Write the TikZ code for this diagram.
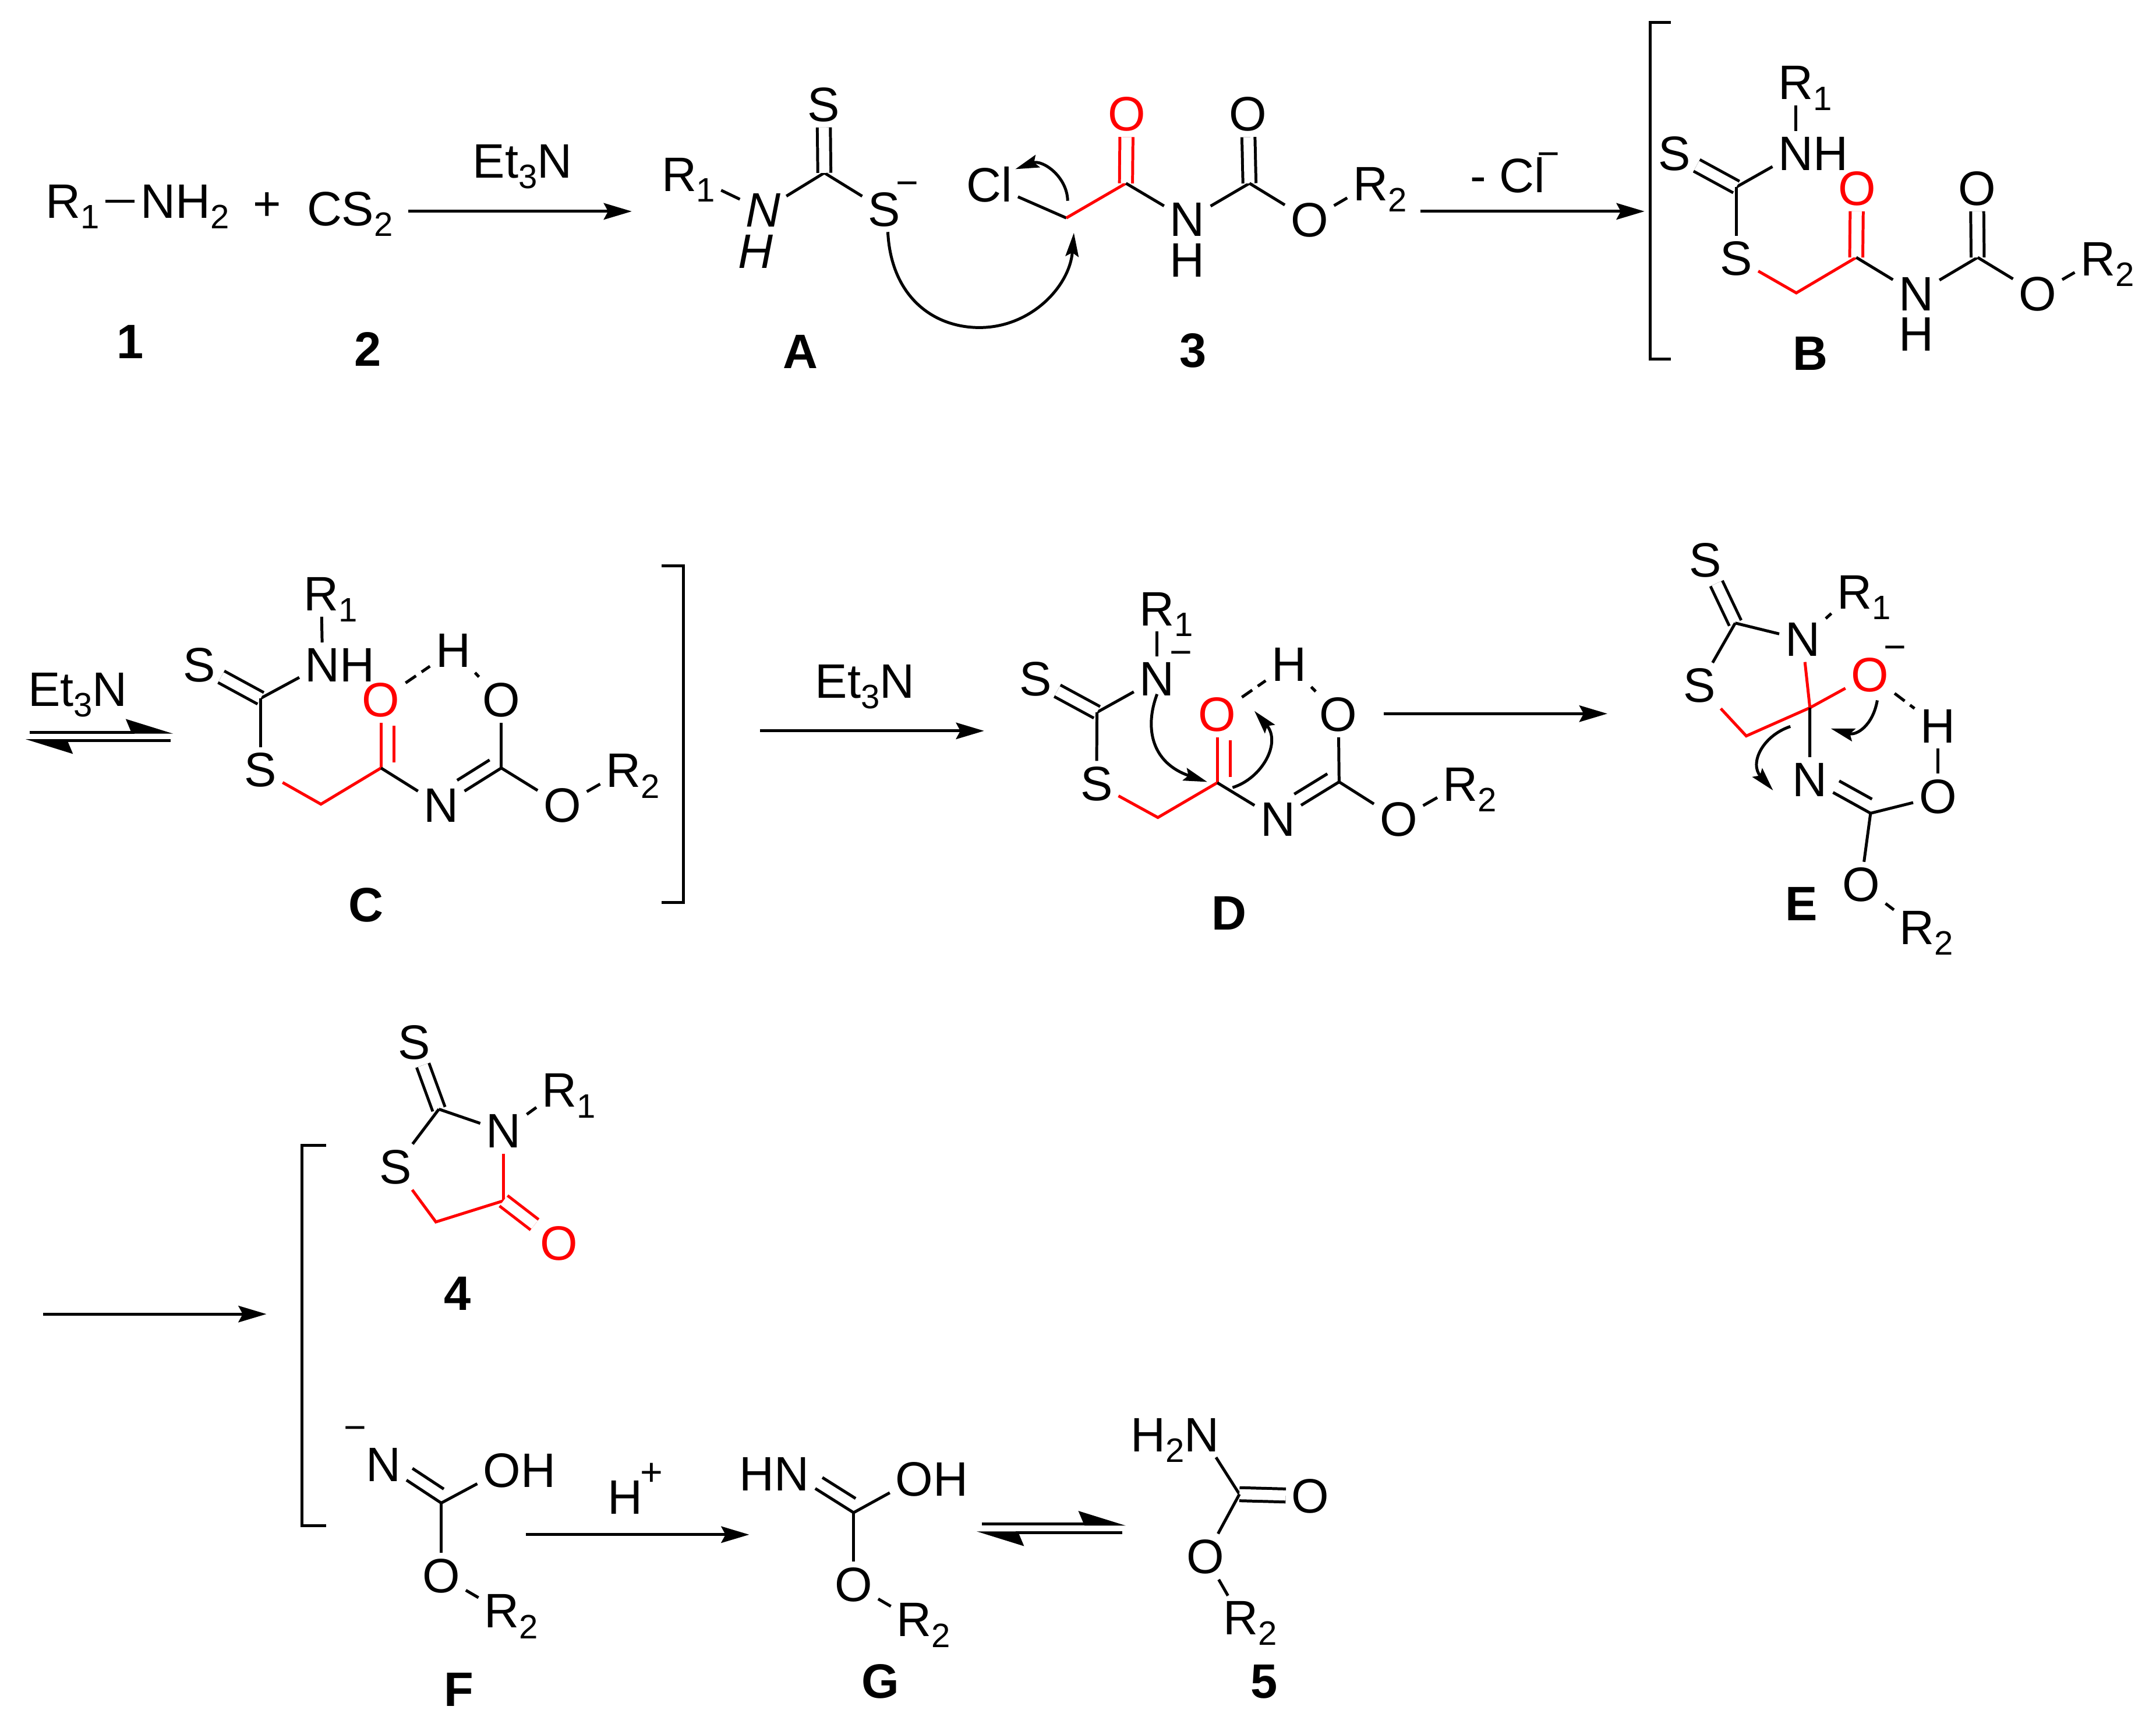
\documentclass[tikz,border=0pt]{standalone}
\usepackage{fontspec}
\setmainfont{Liberation Sans}
\usetikzlibrary{arrows.meta,calc}
\newcommand{\subidx}[1]{\raisebox{-2.2pt}[0pt][0pt]{\fontsize{7}{7}\selectfont #1}}
\newcommand{\dblbond}[3][bond]{\draw[#1] (#2) -- (#3); \draw[#1] ($(#2)!.08!(#3)!.095cm!-90:(#3)$) -- ($(#2)!.62!(#3)!.095cm!-90:(#3)$);}
\tikzset{
	atom/.style={inner sep=1.2pt,outer sep=0pt},
	redatom/.style={atom,text=red},
	cmpd/.style={atom,font=\bfseries},
	charge/.style={inner sep=0pt,yshift=-1pt,font=\fontsize{8}{8}\selectfont},
	bond/.style={line width=.6pt},
	redbond/.style={bond,red},
	dblsym/.style={bond,double,double distance=2.1pt},
	reddbl/.style={dblsym,red},
	hbond/.style={bond,dash pattern=on 2.6pt off 1.4pt},
	rxn/.style={line width=.6pt,-{Stealth[length=5.8pt,width=3.4pt,inset=.9pt]}},
	equil/.style={line width=.6pt,-{Stealth[harpoon,length=8.8pt,width=5.4pt,inset=1.1pt]}},
	push/.style={line width=.6pt,-{Stealth[length=4.9pt,width=2.7pt,inset=.8pt]}}
}
\begin{document}
\begin{tikzpicture}[x=0.01cm,y=-0.01cm]
	\useasboundingbox (0,0) rectangle (1568,1258.8);

	\node[atom] (Rnh) at (52.7,146.5){R\subidx{1}};
	\node[atom] (NHtwo) at (134.5,146.5){NH\subidx{2}};
	\draw[bond] (Rnh) -- (NHtwo);
	\node[atom] (plusA) at (194.5,150){+};
	\node[atom] (CStwo) at (254.5,152){CS\subidx{2}};
	\coordinate (arrAs) at (297,153.7);
	\coordinate (arrAe) at (459.5,153.7);
	\draw[rxn] (arrAs) -- (arrAe);
	\node[atom] (baseA) at (380,117.5){Et\subidx{3}N};
	\node[cmpd] (lblOne) at (94.8,248.5){1};
	\node[cmpd] (lblTwo) at (267.4,254){2};

	\node[atom] (Ra) at (500.7,127){R\subidx{1}};
	\node[atom,font=\itshape] (Na) at (555,153){N};
	\node[atom,font=\itshape] (Ha) at (549.5,183){H};
	\coordinate (Ca) at (599.5,125.7);
	\node[atom] (Sa1) at (599,76){S};
	\node[atom] (Sa2) at (643,152.5){S};
	\node[charge] (mina) at (660,134){−};
	\draw[bond] (Ra) -- (Na);
	\draw[bond] (Na) -- (Ca);
	\draw[bond] (Ca) -- (Sa2);
	\draw[dblsym] (Ca) -- (Sa1);
	\node[cmpd] (lblA) at (582,256){A};

	\node[atom] (Cl) at (719.5,134){Cl};
	\coordinate (Ch) at (775.5,158.5);
	\coordinate (Cc1) at (818.9,133.3);
	\coordinate (Cc2) at (908.7,133.3);
	\node[redatom] (Oc1) at (819.4,83){O};
	\node[atom] (Oc2) at (907.6,83){O};
	\node[atom] (Nc) at (863.5,159.8){N};
	\node[atom] (Hc) at (863.5,189.5){H};
	\node[atom] (Oc3) at (952.3,160){O};
	\node[atom] (Rc) at (996.7,134){R\rlap{\subidx{2}}};
	\draw[bond] (Cl) -- (Ch);
	\draw[redbond] (Ch) -- (Cc1);
	\draw[reddbl] (Cc1) -- (Oc1);
	\draw[bond] (Cc1) -- (Nc);
	\draw[bond] (Nc) -- (Cc2);
	\draw[dblsym] (Cc2) -- (Oc2);
	\draw[bond] (Cc2) -- (Oc3);
	\draw[bond] (Oc3) -- (Rc);
	\node[cmpd] (lblThree) at (867.6,255){3};

	\coordinate (pushAs) at (645.7,168.7);
	\coordinate (pushAm) at (712.3,238.2);
	\coordinate (pushAe) at (781,169.3);
	\draw[push] (pushAs) .. controls (648,215) and (678,238.2) .. (pushAm) .. controls (750,238.2) and (778,208) .. (pushAe);
	\coordinate (pushBs) at (776.5,146);
	\coordinate (pushBe) at (738.4,123);
	\draw[push] (pushBs) .. controls (776,128) and (758,116) .. (pushBe);

	\coordinate (arrBs) at (1032.9,153.7);
	\coordinate (arrBe) at (1196,153.7);
	\draw[rxn] (arrBs) -- (arrBe);
	\node[atom] (lossCl) at (1096.5,127.5){- Cl};
	\node[charge] (lossMin) at (1126,112.5){−};

	\draw[bond] (1215,16.5) -- (1200,16.5) -- (1200,261) -- (1215,261);
	\node[atom] (Sb1) at (1218,111.6){S};
	\node[atom] (Nb) at (1306,111.6){N\rlap{H}};
	\node[atom] (Rb1) at (1306,60.3){R\rlap{\subidx{1}}};
	\coordinate (Cb1) at (1262.8,136);
	\node[atom] (Sb2) at (1262.8,188){S};
	\coordinate (Chb) at (1306.4,213);
	\coordinate (Cb2) at (1350,187.2);
	\coordinate (Cb3) at (1438.3,187.2);
	\node[redatom] (Ob1) at (1350.5,137){O};
	\node[atom] (Ob2) at (1437.8,137){O};
	\node[atom] (Nb2) at (1393.6,213.7){N};
	\node[atom] (Hb) at (1393.6,243.3){H};
	\node[atom] (Ob3) at (1481.9,213.7){O};
	\node[atom] (Rb2) at (1525.8,188.3){R\rlap{\subidx{2}}};
	\draw[bond] (Rb1) -- (Nb);
	\draw[bond] (Nb) -- (Cb1);
	\draw[dblsym] (Cb1) -- (Sb1);
	\draw[bond] (Cb1) -- (Sb2);
	\draw[redbond] (Sb2) -- (Chb) -- (Cb2);
	\draw[reddbl] (Cb2) -- (Ob1);
	\draw[bond] (Cb2) -- (Nb2);
	\draw[bond] (Nb2) -- (Cb3);
	\draw[dblsym] (Cb3) -- (Ob2);
	\draw[bond] (Cb3) -- (Ob3);
	\draw[bond] (Ob3) -- (Rb2);
	\node[cmpd] (lblB) at (1316.6,257){B};

	\node[atom] (baseC) at (56.5,501.5){Et\subidx{3}N};
	\coordinate (eqAs) at (21.4,532.5);
	\coordinate (eqAe) at (126,532.5);
	\coordinate (eqBs) at (124,538.6);
	\coordinate (eqBe) at (18.5,538.6);
	\draw[equil] (eqAs) -- (eqAe);
	\draw[equil] (eqBs) -- (eqBe);

	\node[atom] (Sd1) at (144.9,483.5){S};
	\node[atom] (Nd) at (234.6,483.5){N\rlap{H}};
	\node[atom] (Rd1) at (233.6,432.2){R\rlap{\subidx{1}}};
	\coordinate (Cd1) at (189.6,507.8);
	\node[atom] (Sd2) at (189.6,560){S};
	\coordinate (Chd) at (233.4,584.8);
	\coordinate (Cd2) at (277.1,558.5);
	\coordinate (Cd3) at (364.6,558.5);
	\node[redatom] (Od1) at (277.1,508.9){O};
	\node[atom] (Od2) at (364.6,508.9){O};
	\node[atom] (Hd) at (329.6,472.9){H};
	\node[atom] (Nd2) at (320.9,585.9){N};
	\node[atom] (Od3) at (408.9,585.9){O};
	\node[atom] (Rd2) at (453.4,560.5){R\rlap{\subidx{2}}};
	\draw[bond] (Rd1) -- (Nd);
	\draw[bond] (Nd) -- (Cd1);
	\draw[dblsym] (Cd1) -- (Sd1);
	\draw[bond] (Cd1) -- (Sd2);
	\draw[redbond] (Sd2) -- (Chd) -- (Cd2);
	\dblbond[redbond]{Cd2}{Od1}
	\draw[bond] (Cd2) -- (Nd2);
	\dblbond{Cd3}{Nd2}
	\draw[bond] (Cd3) -- (Od2);
	\draw[bond] (Cd3) -- (Od3);
	\draw[bond] (Od3) -- (Rd2);
	\draw[hbond] (Od1) -- (Hd);
	\draw[bond] (Hd) -- (Od2);
	\node[cmpd] (lblC) at (266,658){C};
	\draw[bond] (481.3,411.6) -- (496.9,411.6) -- (496.9,656.1) -- (481.3,656.1);

	\coordinate (arrCs) at (552.8,531.5);
	\coordinate (arrCe) at (715.7,531.5);
	\draw[rxn] (arrCs) -- (arrCe);
	\node[atom] (baseD) at (629,495.6){Et\subidx{3}N};

	\node[atom] (Se1) at (753,493.7){S};
	\node[atom] (Ne) at (841.5,493.7){N};
	\node[charge] (mine) at (859,475.4){−};
	\node[atom] (Re1) at (841.5,442.8){R\rlap{\subidx{1}}};
	\coordinate (Ce1) at (797.8,518);
	\node[atom] (Se2) at (797.5,570){S};
	\coordinate (Che) at (842.1,594.5);
	\coordinate (Ce2) at (885.3,569.2);
	\coordinate (Ce3) at (973.9,568.6);
	\node[redatom] (Oe1) at (885.3,519.5){O};
	\node[atom] (Oe2) at (973.4,519.5){O};
	\node[atom] (He) at (937.4,483.2){H};
	\node[atom] (Ne2) at (929.3,596){N};
	\node[atom] (Oe3) at (1017.1,596){O};
	\node[atom] (Re2) at (1062.2,570.4){R\rlap{\subidx{2}}};
	\draw[bond] (Re1) -- (Ne);
	\draw[bond] (Ne) -- (Ce1);
	\draw[dblsym] (Ce1) -- (Se1);
	\draw[bond] (Ce1) -- (Se2);
	\draw[redbond] (Se2) -- (Che) -- (Ce2);
	\dblbond[redbond]{Ce2}{Oe1}
	\draw[bond] (Ce2) -- (Ne2);
	\dblbond{Ce3}{Ne2}
	\draw[bond] (Ce3) -- (Oe2);
	\draw[bond] (Ce3) -- (Oe3);
	\draw[bond] (Oe3) -- (Re2);
	\draw[hbond] (Oe1) -- (He);
	\draw[bond] (He) -- (Oe2);
	\coordinate (pushCs) at (841.5,504.8);
	\coordinate (pushCe) at (878,568.6);
	\coordinate (pushDs) at (896.4,572.7);
	\coordinate (pushDe) at (912.3,517);
	\draw[push] (pushCs) .. controls (832,530) and (838,555) .. (pushCe);
	\draw[push] (pushDs) .. controls (918,566) and (932,540) .. (pushDe);
	\node[cmpd] (lblD) at (893.7,664){D};

	\coordinate (arrDs) at (1006.3,519);
	\coordinate (arrDe) at (1169,519);
	\draw[rxn] (arrDs) -- (arrDe);

	\node[atom] (Sf1) at (1240.4,407.6){S};
	\coordinate (Cf1) at (1262,453.1);
	\node[atom] (Nf) at (1310.9,465.1){N};
	\node[atom] (Rf1) at (1348.8,430.8){R\rlap{\subidx{1}}};
	\node[atom] (Sf2) at (1236,498.6){S};
	\coordinate (Chf) at (1270,535.2);
	\coordinate (Cf2) at (1316.3,514.7);
	\node[redatom] (Of1) at (1360,490.7){O};
	\node[charge] (minf) at (1378.4,471.5){−};
	\node[atom] (Hf) at (1409.3,528){H};
	\node[atom] (Nf2) at (1316.2,566.9){N};
	\coordinate (Cf3) at (1360.4,591.4);
	\node[atom] (Of2) at (1409.3,579.2){O};
	\node[atom] (Of3) at (1353.4,643.4){O};
	\node[atom] (Rf2) at (1394.3,674.5){R\rlap{\subidx{2}}};
	\draw[dblsym] (Cf1) -- (Sf1);
	\draw[bond] (Cf1) -- (Nf);
	\draw[bond] (Nf) -- (Rf1);
	\draw[bond] (Cf1) -- (Sf2);
	\draw[redbond] (Sf2) -- (Chf) -- (Cf2);
	\draw[redbond] (Nf) -- (Cf2);
	\draw[redbond] (Of1) -- (Cf2);
	\draw[bond] (Cf2) -- (Nf2);
	\dblbond{Cf3}{Nf2}
	\draw[bond] (Cf3) -- (Of2);
	\draw[bond] (Cf3) -- (Of3);
	\draw[bond] (Of3) -- (Rf2);
	\draw[hbond] (Of1) -- (Hf);
	\draw[bond] (Hf) -- (Of2);
	\coordinate (pushEs) at (1365.3,509.3);
	\coordinate (pushEe) at (1331.5,529.8);
	\coordinate (pushFs) at (1302.1,528.3);
	\coordinate (pushFe) at (1289.5,574.8);
	\draw[push] (pushEs) .. controls (1362,528) and (1350,535) .. (pushEe);
	\draw[push] (pushFs) .. controls (1282,535) and (1272,555) .. (pushFe);
	\node[cmpd] (lblE) at (1310,657.4){E};

	\coordinate (arrEs) at (31.4,955.6);
	\coordinate (arrEe) at (193.8,955.6);
	\draw[rxn] (arrEs) -- (arrEe);
	\draw[bond] (237.2,833) -- (219.7,833) -- (219.7,1109.4) -- (237.2,1109.4);

	\node[atom] (Sg1) at (301.4,758){S};
	\coordinate (Cg1) at (319.2,806.6);
	\node[atom] (Ng) at (366.2,822.7){N};
	\node[atom] (Rg) at (407,793){R\rlap{\subidx{1}}};
	\node[atom] (Sg2) at (287.5,848.6){S};
	\coordinate (Chg) at (317,888.6);
	\coordinate (Cg2) at (366.2,873.2);
	\node[redatom] (Og) at (406.7,904.4){O};
	\draw[dblsym] (Cg1) -- (Sg1);
	\draw[bond] (Cg1) -- (Ng);
	\draw[bond] (Ng) -- (Rg);
	\draw[bond] (Cg1) -- (Sg2);
	\draw[redbond] (Sg2) -- (Chg) -- (Cg2);
	\draw[redbond] (Ng) -- (Cg2);
	\draw[reddbl] (Cg2) -- (Og);
	\node[cmpd] (lblFour) at (332.9,940.6){4};

	\node[charge] (minh) at (258.4,1039){−};
	\node[atom] (Nh) at (278.7,1065.2){N};
	\coordinate (Ch1) at (320.9,1093);
	\node[atom] (Oh1) at (365,1069.4){O\rlap{H}};
	\node[atom] (Oh2) at (320.9,1146){O};
	\node[atom] (Rh) at (364.9,1171.7){R\rlap{\subidx{2}}};
	\dblbond{Ch1}{Nh}
	\draw[bond] (Ch1) -- (Oh1);
	\draw[bond] (Ch1) -- (Oh2);
	\draw[bond] (Oh2) -- (Rh);
	\node[cmpd] (lblF) at (333.8,1228.8){F};

	\coordinate (arrFs) at (382.4,1116);
	\coordinate (arrFe) at (544.9,1116);
	\draw[rxn] (arrFs) -- (arrFe);
	\node[atom] (Hplus) at (454.5,1089){H};
	\node[charge] (plusH) at (474,1068.5){+};

	\node[atom] (Ni) at (576,1071.8){\llap{H}N};
	\coordinate (Ci) at (620.8,1100);
	\node[atom] (Oi1) at (665,1075.7){O\rlap{H}};
	\node[atom] (Oi2) at (620.8,1152.3){O};
	\node[atom] (Ri) at (664.8,1178){R\rlap{\subidx{2}}};
	\dblbond{Ci}{Ni}
	\draw[bond] (Ci) -- (Oi1);
	\draw[bond] (Ci) -- (Oi2);
	\draw[bond] (Oi2) -- (Ri);
	\node[cmpd] (lblG) at (640.2,1222.7){G};

	\coordinate (eqCs) at (714.1,1108.4);
	\coordinate (eqCe) at (818.8,1108.4);
	\coordinate (eqDs) at (816.2,1114.7);
	\coordinate (eqDe) at (710.2,1114.7);
	\draw[equil] (eqCs) -- (eqCe);
	\draw[equil] (eqDs) -- (eqDe);

	\node[atom] (Nj) at (874,1043.5){\llap{H\subidx{2}}N};
	\coordinate (Cj) at (901.4,1086.6);
	\node[atom] (Oj1) at (953,1088){O};
	\node[atom] (Oj2) at (876.8,1132){O};
	\node[atom] (Rj) at (902.4,1176.7){R\rlap{\subidx{2}}};
	\draw[bond] (Cj) -- (Nj);
	\draw[dblsym] (Cj) -- (Oj1);
	\draw[bond] (Cj) -- (Oj2);
	\draw[bond] (Oj2) -- (Rj);
	\node[cmpd] (lblFive) at (919.3,1222.8){5};
\end{tikzpicture}
\end{document}
